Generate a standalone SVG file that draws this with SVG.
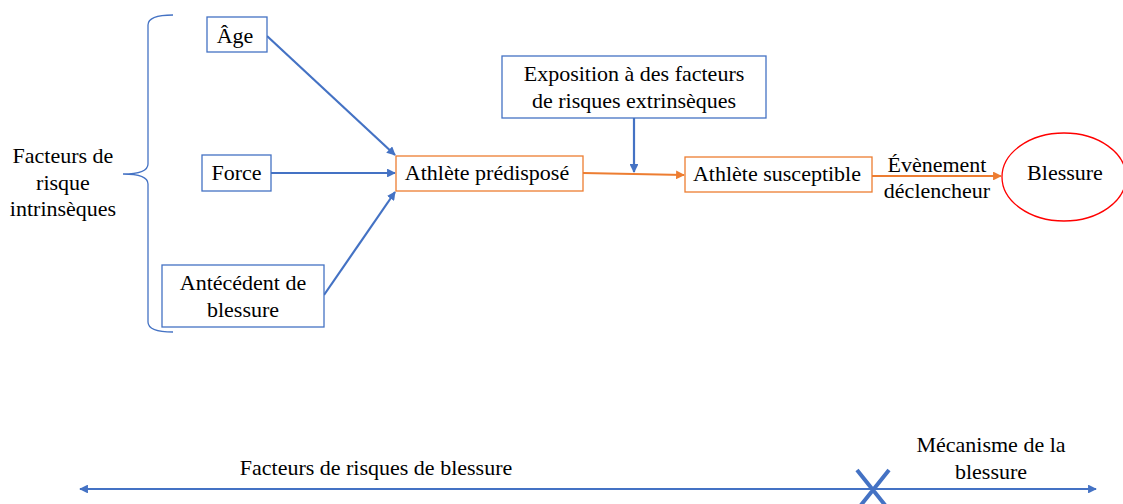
<svg xmlns="http://www.w3.org/2000/svg" width="1123" height="504" viewBox="0 0 1123 504" font-family="'Liberation Serif', 'DejaVu Serif', serif">
<style>
text{font-family:'Liberation Serif','DejaVu Serif',serif;font-size:22px;fill:#000;text-anchor:middle}
.bb{fill:#fff;stroke:#4472C4;stroke-width:1.3}
.ob{fill:#fff;stroke:#ED7D31;stroke-width:1.3}
.bl{stroke:#4472C4;stroke-width:2.2;fill:none}
.ol{stroke:#ED7D31;stroke-width:2.2;fill:none}
</style>
<defs>
<marker id="ab" viewBox="0 0 10 10" refX="9" refY="5" markerWidth="4" markerHeight="4" orient="auto-start-reverse"><path d="M0,0L10,5L0,10z" fill="#4472C4"/></marker>
<marker id="ao" viewBox="0 0 10 10" refX="9" refY="5" markerWidth="4" markerHeight="4" orient="auto"><path d="M0,0L10,5L0,10z" fill="#ED7D31"/></marker>
</defs>
<g id="connectors">
<line class="bl" x1="267" y1="36" x2="395" y2="155" marker-end="url(#ab)"/>
<line class="bl" x1="271" y1="173" x2="395" y2="173" marker-end="url(#ab)"/>
<line class="bl" x1="324" y1="295" x2="395" y2="192" marker-end="url(#ab)"/>
<line class="bl" x1="634" y1="118" x2="634" y2="172" marker-end="url(#ab)"/>
<line class="ol" x1="583" y1="173" x2="684" y2="175" marker-end="url(#ao)"/>
<line class="ol" x1="872" y1="176" x2="1001" y2="176" marker-end="url(#ao)"/>
<line class="bl" x1="80" y1="489" x2="1096" y2="489" marker-start="url(#ab)" marker-end="url(#ab)"/>
</g>
<g id="brace"><path d="M173,15 Q148,15 148,25 L148,164 Q148,174 123,174 Q148,174 148,184 L148,322 Q148,332 173,332" fill="none" stroke="#4472C4" stroke-width="1.3"/></g>
<g id="intrinsic-label"><text x="63" y="163">Facteurs de</text><text x="63" y="190">risque</text><text x="63" y="216">intrinsèques</text></g>
<g id="age"><rect class="bb" x="207" y="17" width="60" height="35"/><text x="235" y="43">Âge</text></g>
<g id="force"><rect class="bb" x="202" y="155" width="69" height="36"/><text x="236.5" y="180">Force</text></g>
<g id="antecedent"><rect class="bb" x="162" y="265" width="162" height="62"/><text x="243" y="290">Antécédent de</text><text x="243" y="317">blessure</text></g>
<g id="predispose"><rect class="ob" x="396" y="156" width="187" height="35"/><text x="487" y="180">Athlète prédisposé</text></g>
<g id="exposition"><rect class="bb" x="502" y="56" width="264" height="62"/><text x="634" y="81">Exposition à des facteurs</text><text x="634" y="108">de risques extrinsèques</text></g>
<g id="susceptible"><rect class="ob" x="685" y="157" width="187" height="35"/><text x="777" y="181">Athlète susceptible</text></g>
<g id="event-label"><text x="937" y="172">Évènement</text><text x="937" y="198">déclencheur</text></g>
<g id="blessure"><ellipse cx="1064" cy="177" rx="62" ry="44" fill="#fff" stroke="#FF0000" stroke-width="1.3"/><text x="1065" y="180">Blessure</text></g>
<g id="timeline-labels"><text x="376" y="475">Facteurs de risques de blessure</text><text x="991" y="452">Mécanisme de la</text><text x="991" y="479">blessure</text></g>
<g id="cross"><path d="M857,470L889,510M889,470L857,510" stroke="#4472C4" stroke-width="4" fill="none"/></g>
</svg>
